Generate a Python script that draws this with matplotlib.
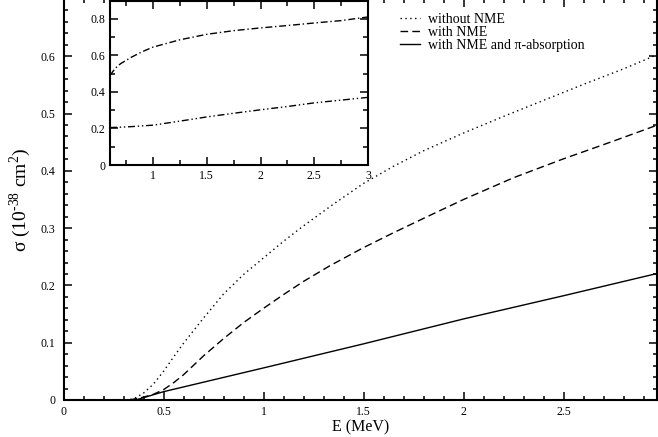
import numpy as np
import matplotlib.pyplot as plt
from matplotlib.ticker import MultipleLocator

plt.rcParams['font.family'] = ['Liberation Serif', 'DejaVu Serif']
plt.rcParams['mathtext.fontset'] = 'custom'
plt.rcParams['mathtext.rm'] = 'Liberation Serif'

# main panel: cross sections (10^-38 cm^2) vs E (MeV)
e_free = [0.31, 0.35, 0.40, 0.45, 0.50, 0.55, 0.60, 0.70, 0.80, 0.90, 1.00, 1.10, 1.20,
          1.35, 1.50, 1.65, 1.80, 2.00, 2.20, 2.40, 2.60, 2.80, 2.97]
sig_free = [0.0, 0.002, 0.012, 0.028, 0.050, 0.075, 0.099, 0.143, 0.185, 0.219, 0.248, 0.277,
            0.304, 0.342, 0.378, 0.408, 0.435, 0.466, 0.495, 0.523, 0.551, 0.578, 0.603]

e_nme = [0.33, 0.40, 0.45, 0.50, 0.55, 0.60, 0.70, 0.80, 0.90, 1.00, 1.10, 1.20, 1.33,
         1.50, 1.65, 1.80, 2.00, 2.25, 2.50, 2.75, 2.97]
sig_nme = [0.0, 0.005, 0.010, 0.018, 0.030, 0.044, 0.077, 0.107, 0.135, 0.160, 0.184, 0.207,
           0.234, 0.266, 0.292, 0.317, 0.350, 0.388, 0.421, 0.452, 0.480]

e_abs = [0.36, 0.40, 0.50, 1.00, 1.50, 2.00, 2.50, 2.97]
sig_abs = [0.0, 0.004, 0.0145, 0.056, 0.098, 0.1415, 0.182, 0.221]

# inset: ratios
e_in = [0.60, 0.65, 0.70, 0.80, 0.90, 1.00, 1.25, 1.50, 1.75, 2.00, 2.25, 2.50, 2.75, 3.00]
ratio_up = [0.49, 0.53, 0.555, 0.59, 0.62, 0.645, 0.685, 0.715, 0.735, 0.75, 0.763, 0.777, 0.79, 0.81]
ratio_low = [0.205, 0.206, 0.207, 0.21, 0.214, 0.218, 0.24, 0.263, 0.283, 0.302, 0.32, 0.34, 0.355, 0.37]

fig = plt.figure(figsize=(6.58, 4.37), dpi=100)
ax = fig.add_axes([63.5 / 658, 37 / 437, 593.5 / 658, 401 / 437])

ax.plot(e_free, sig_free, color='black', lw=1.0, linestyle=(0, (1, 2.5)), label='without NME')
ax.plot(e_nme, sig_nme, color='black', lw=1.0, linestyle=(0, (5.5, 3)), label='with NME')
ax.plot(e_abs, sig_abs, color='black', lw=1.0, label='with NME and π-absorption')

ax.set_xlim(0, 2.9675)
ax.set_ylim(0, 0.7)
ax.xaxis.set_minor_locator(MultipleLocator(0.1))
ax.yaxis.set_minor_locator(MultipleLocator(0.02))
ax.set_xticks([0, 0.5, 1, 1.5, 2, 2.5])
ax.set_xticklabels(['0', '0.5', '1', '1.5', '2', '2.5'])
ax.set_yticks([0, 0.1, 0.2, 0.3, 0.4, 0.5, 0.6])
ax.set_yticklabels(['0', '0.1', '0.2', '0.3', '0.4', '0.5', '0.6'])
ax.tick_params(which='both', direction='in', top=True, right=True, width=1.1, labelsize=8.5)
ax.tick_params(which='major', length=5.8)
ax.tick_params(which='minor', length=3)
ax.tick_params(axis='x', pad=4)
ax.tick_params(axis='y', pad=6)
for s in ax.spines.values():
    s.set_linewidth(1.5)

ax.set_xlabel('E (MeV)', fontsize=11.5, labelpad=1)
ax.set_ylabel('σ (10$^{\\mathrm{\u2010}38}$ cm$^{2}$)', fontsize=14, labelpad=5)

ax.legend(loc='upper left', bbox_to_anchor=(0.55, 0.99), frameon=False, fontsize=10,
          handlelength=1.45, handletextpad=0.6, labelspacing=0.0, borderaxespad=0.3)

# inset
axi = fig.add_axes([110 / 658, 272 / 437, 258 / 658, 164.5 / 437])
axi.plot(e_in, ratio_up, color='black', lw=1.0, linestyle=(0, (5, 2, 1, 2)))
axi.plot(e_in, ratio_low, color='black', lw=1.0, linestyle=(0, (5, 2, 1, 2, 1, 2)))
axi.set_xlim(0.6, 3.0)
axi.set_ylim(0, 0.9)
axi.set_xticks([1, 1.5, 2, 2.5, 3])
axi.set_xticklabels(['1', '1.5', '2', '2.5', '3'])
axi.xaxis.set_minor_locator(MultipleLocator(0.25))
axi.set_yticks([0, 0.2, 0.4, 0.6, 0.8])
axi.set_yticklabels(['0', '0.2', '0.4', '0.6', '0.8'])
axi.yaxis.set_minor_locator(MultipleLocator(0.1))
axi.tick_params(which='both', direction='in', top=True, right=True, width=1.1, labelsize=8.5, pad=3.5)
axi.tick_params(which='major', length=5.8)
axi.tick_params(which='minor', length=3.5)
for s in axi.spines.values():
    s.set_linewidth(1.5)

fig.savefig('out.png', dpi=100)
